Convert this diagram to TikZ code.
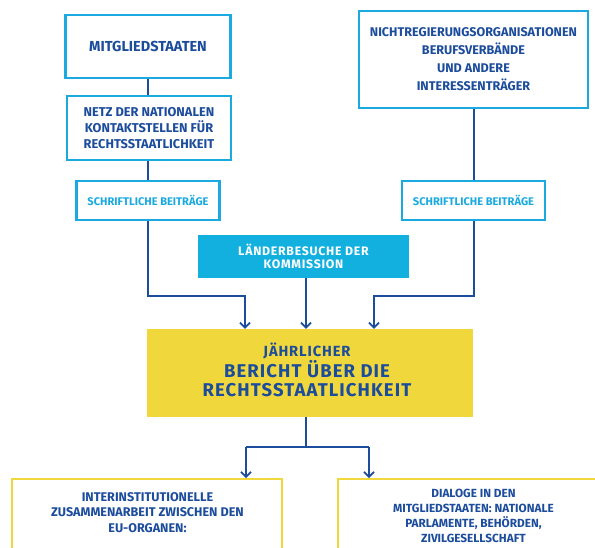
\documentclass[tikz,border=0pt]{standalone}
\usepackage{fontspec}
\usepackage{tikz}
\usetikzlibrary{positioning, arrows.meta}
\setmainfont{Fira Sans}
\newfontfamily\spacedfont[LetterSpace=6]{Fira Sans}
\definecolor{eublue}{RGB}{28, 76, 156}
\definecolor{eucyan}{RGB}{26, 170, 224}
\definecolor{visitcyan}{RGB}{18, 176, 222}
\definecolor{eugold}{RGB}{240, 215, 60}

\begin{document}
\begin{tikzpicture}[
  x=1pt, y=-1pt,
  every node/.style={font=\bfseries, text=eublue, align=center},
  srcbox/.style={
    rectangle, draw=eucyan, line width=2.4pt, fill=white,
    minimum width=#1, inner sep=2pt
  },
  notebox/.style={
    rectangle, draw=eucyan, line width=2.4pt, fill=white,
    minimum width=143pt, minimum height=39pt,
    text=eucyan, font=\bfseries\fontsize{11.1}{12}\selectfont
  },
  outbox/.style={
    rectangle, draw=eugold, line width=2.4pt, fill=white,
    minimum width=268pt, minimum height=120pt, anchor=north
  },
  link/.style={draw=eublue, line width=2pt},
  arr/.style={link, -{Straight Barb[length=5pt, width=10pt, line width=1.7pt]}}
]
\clip (0,0) rectangle (595,547);
\fill[white] (0,0) rectangle (595,547);

% sources
\node[srcbox=165pt, minimum height=63pt, font=\bfseries\fontsize{14.5}{15}\selectfont]
  (mitglied) at (148,46.5) {MITGLIEDSTAATEN};
\node[srcbox=164pt, minimum height=64pt, font=\bfseries\fontsize{12.8}{16}\selectfont]
  (netz) at (149,128) {NETZ DER NATIONALEN\\KONTAKTSTELLEN FÜR\\RECHTSSTAATLICHKEIT};
\node[srcbox=229pt, minimum height=97pt, font=\bfseries\fontsize{12.6}{18}\selectfont]
  (ngo) at (473.5,59.5) {NICHTREGIERUNGSORGANISATIONEN\\BERUFSVERBÄNDE\\UND ANDERE\\INTERESSENTRÄGER};

% written contributions
\node[notebox] (schrL) at (148,200.5) {SCHRIFTLICHE BEITRÄGE};
\node[notebox] (schrR) at (473.5,200.5) {SCHRIFTLICHE BEITRÄGE};

% country visits
\node[rectangle, fill=visitcyan, minimum width=211pt, minimum height=43pt,
      text=white, font=\spacedfont\bfseries\fontsize{12.3}{13.5}\selectfont]
  (laender) at (303.5,256.5) {LÄNDERBESUCHE DER\\KOMMISSION};

% annual report
\node[rectangle, fill=eugold, minimum width=326pt, minimum height=88pt]
  (bericht) at (310,373) {};
\node[font=\spacedfont\bfseries\fontsize{18.5}{19}\selectfont]
  (berichtText) at (307,370)
  {\fontsize{14.7}{18}\selectfont JÄHRLICHER\\
   BERICHT ÜBER DIE\\RECHTSSTAATLICHKEIT};

% follow-up
\node[outbox, minimum width=270pt] (interinst) at (147,478) {};
\node[font=\bfseries\fontsize{12.6}{15.5}\selectfont, anchor=north]
  (interinstText) at (147.5,489)
  {INTERINSTITUTIONELLE\\ZUSAMMENARBEIT ZWISCHEN DEN\\EU-ORGANEN:};
\node[outbox, minimum width=272pt] (dialoge) at (474,478) {};
\node[font=\bfseries\fontsize{11.8}{14.7}\selectfont, anchor=north]
  (dialogeText) at (473.5,486)
  {DIALOGE IN DEN\\MITGLIEDSTAATEN: NATIONALE\\PARLAMENTE, BEHÖRDEN,\\ZIVILGESELLSCHAFT};

% connectors
\coordinate (jl) at (245,296);
\coordinate (jr) at (374,296);
\coordinate (split) at (306,447);
\coordinate (sl) at (246,447);
\coordinate (sr) at (369,447);

\draw[link] (mitglied.south) -- (mitglied.south |- netz.north);
\draw[link] (schrL.north |- netz.south) -- (schrL.north);
\draw[link] (ngo.south) -- (schrR.north);
\draw[arr] (schrL.south) |- (jl) -- (jl |- bericht.north);
\draw[arr] (schrR.south) |- (jr) -- (jr |- bericht.north);
\draw[arr] (laender.south -| split) -- (split |- bericht.north);
\draw[link] (bericht.south -| split) -- (split);
\draw[link] (sl) -- (sr);
\draw[arr] (sl) -- (sl |- interinst.north);
\draw[arr] (sr) -- (sr |- dialoge.north);
\end{tikzpicture}
\end{document}
